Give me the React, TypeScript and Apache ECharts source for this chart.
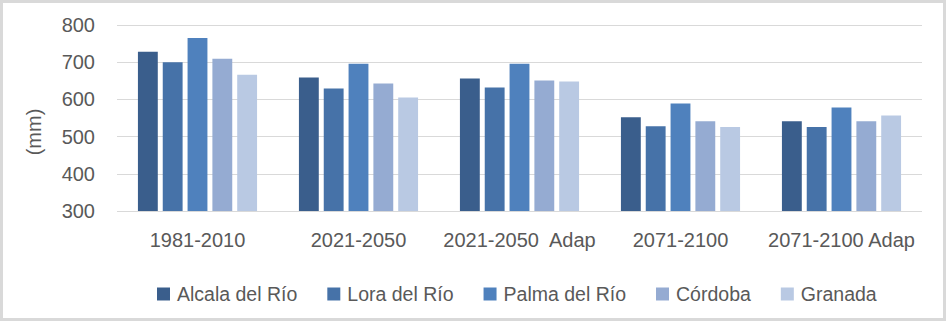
import React, { useEffect, useRef } from "react";
import * as echarts from "echarts";

const categories = ["1981-2010", "2021-2050", "2021-2050  Adap", "2071-2100", "2071-2100 Adap"];
const seriesNames = ["Alcala del Río", "Lora del Río", "Palma del Río", "Córdoba", "Granada"];
const alcala = [728, 659, 656, 552, 541];
const lora = [700, 629, 632, 528, 526];
const palma = [765, 696, 696, 589, 578];
const cordoba = [709, 643, 651, 541, 541];
const granada = [666, 605, 648, 526, 557];
const seriesValues = [alcala, lora, palma, cordoba, granada];
const colors = ["#3A5E8C", "#4672A8", "#4F81BD", "#95ABD2", "#B9C9E3"];
const yMin = 300;
const yMax = 800;
const yInterval = 100;

const FONT = "'Liberation Sans', Arial, sans-serif";
const TEXT = "#595959";

export default function App() {
  const ref = useRef<HTMLDivElement>(null);
  useEffect(() => {
    document.body.style.margin = "0";
    if (!ref.current) return;
    const chart = echarts.init(ref.current, undefined, { renderer: "svg" });
    chart.setOption({
      animation: false,
      backgroundColor: "#ffffff",
      textStyle: { fontFamily: FONT },
      grid: { left: 117, right: 24, top: 25, bottom: 110 },
      legend: {
        left: 152,
        top: 279,
        itemWidth: 13,
        itemHeight: 13,
        itemGap: 30,
        icon: "rect",
        textStyle: { fontSize: 19.5, color: TEXT, fontFamily: FONT, padding: [0, 0, 0, 2] },
        data: seriesNames,
      },
      xAxis: {
        type: "category",
        data: categories,
        axisLine: { show: false },
        axisTick: { show: false },
        axisLabel: { fontSize: 20, color: TEXT, fontFamily: FONT, margin: 19, interval: 0 },
      },
      yAxis: {
        type: "value",
        min: yMin,
        max: yMax,
        interval: yInterval,
        axisLine: { show: false },
        axisTick: { show: false },
        axisLabel: { fontSize: 20, color: TEXT, fontFamily: FONT, margin: 22 },
        splitLine: { lineStyle: { color: "#d9d9d9", width: 1 } },
      },
      graphic: [
        {
          type: "text",
          x: 34,
          y: 132,
          rotation: Math.PI / 2,
          style: {
            text: "(mm)",
            fontSize: 20,
            fontFamily: FONT,
            fill: TEXT,
            align: "center",
            verticalAlign: "middle",
          },
        },
        {
          type: "rect",
          shape: { x: 1.5, y: 1.5, width: 943, height: 318 },
          style: { fill: "none", stroke: "#d9d9d9", lineWidth: 3 },
          silent: true,
        },
      ],
      series: seriesNames.map((name, i) => ({
        name,
        type: "bar",
        data: seriesValues[i],
        barGap: "25%",
        barCategoryGap: "26%",
        itemStyle: { color: colors[i] },
      })),
    });
    return () => chart.dispose();
  }, []);
  return <div ref={ref} style={{ width: 946, height: 321 }} />;
}
